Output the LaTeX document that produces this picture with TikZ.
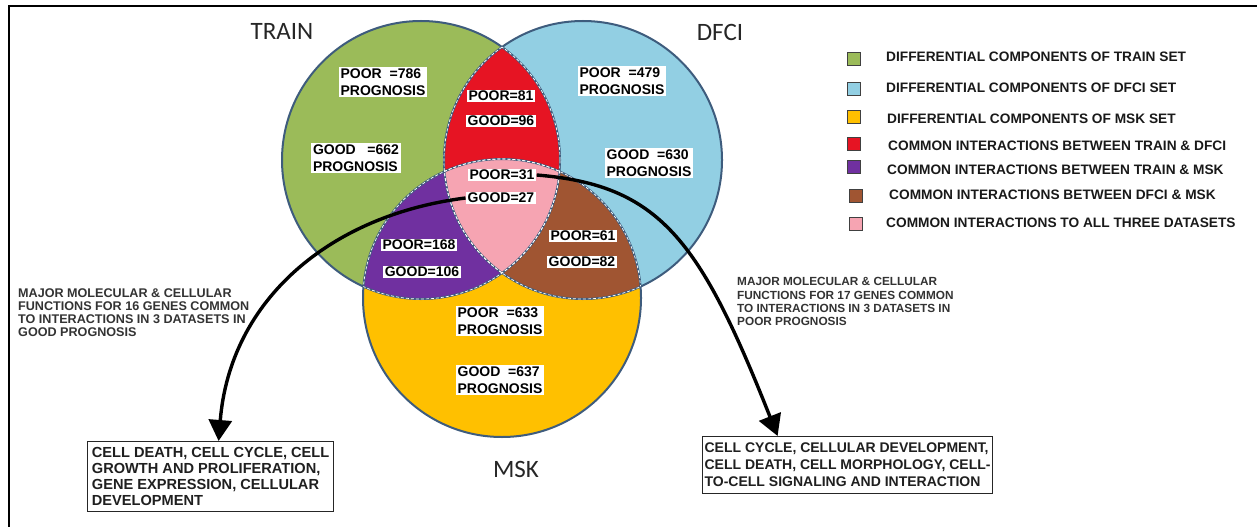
\documentclass[tikz,border=0pt]{standalone}
\usepackage{fontspec}
\setmainfont{Liberation Sans}
\newfontfamily\titlefont{Carlito}
\usetikzlibrary{arrows.meta}

\definecolor{trainc}{RGB}{155,187,89}
\definecolor{dfcic}{RGB}{146,207,227}
\definecolor{mskc}{RGB}{255,192,0}
\definecolor{tdc}{RGB}{230,20,35}
\definecolor{tmc}{RGB}{112,48,160}
\definecolor{dmc}{RGB}{160,85,50}
\definecolor{allc}{RGB}{246,164,178}
\definecolor{rim}{RGB}{62,92,125}

\begin{document}
\begin{tikzpicture}[x=1pt,y=-1pt,
  count/.style={fill=white, inner xsep=2pt, inner ysep=1.5pt,
    font=\fontsize{14}{16.5}\selectfont\bfseries, align=left},
  key/.style={draw=black!75, line width=0.8pt, minimum size=13pt, inner sep=0pt},
  keytext/.style={anchor=west, inner sep=0pt,
    font=\fontsize{13.7}{15}\selectfont\bfseries, text=black!90},
  setname/.style={font=\titlefont\fontsize{25}{28}\selectfont, text=black!85},
  note/.style={anchor=north west, align=left, inner sep=0pt,
    font=\fontsize{12.6}{13.3}\selectfont\bfseries, text=black!80},
  resbox/.style={draw=black!85, line width=1.2pt, align=left, anchor=north west,
    inner sep=0pt, text=black!88},
  rimline/.style={draw=rim, line width=2pt},
  seam/.style={white, line width=0.7pt, dash pattern=on 3pt off 2pt},
  link/.style={line width=3.4pt, -{Triangle[length=21pt,width=23pt]}}
]
\useasboundingbox (0,0) rectangle (1257,527);

% outer frame (top and left rules)
\draw[line width=2.2pt] (1257,5.8) -- (9,5.8) -- (9,527);

% set centres
\coordinate (cT) at (421,160);
\coordinate (cD) at (583,160);
\coordinate (cM) at (502,298);

% single-set regions
\fill[trainc] (cT) circle[radius=139pt];
\fill[dfcic] (cD) circle[radius=139pt];
\fill[mskc] (cM) circle[radius=139pt];

% pairwise overlaps
\begin{scope}
  \clip (cT) circle[radius=139pt];
  \fill[tdc] (cD) circle[radius=139pt];
  \fill[tmc] (cM) circle[radius=139pt];
\end{scope}
\begin{scope}
  \clip (cD) circle[radius=139pt];
  \fill[dmc] (cM) circle[radius=139pt];
\end{scope}
% triple overlap
\begin{scope}
  \clip (cT) circle[radius=139pt];
  \clip (cD) circle[radius=139pt];
  \fill[allc] (cM) circle[radius=139pt];
\end{scope}

% outlines
\draw[rimline] (cT) circle[radius=139pt] (cD) circle[radius=139pt] (cM) circle[radius=139pt];

% dashed seams on the inner arcs
\begin{scope}
  \clip (cT) circle[radius=139pt];
  \draw[seam] (cD) circle[radius=139pt] (cM) circle[radius=139pt];
\end{scope}
\begin{scope}
  \clip (cD) circle[radius=139pt];
  \draw[seam] (cT) circle[radius=139pt] (cM) circle[radius=139pt];
\end{scope}
\begin{scope}
  \clip (cM) circle[radius=139pt];
  \draw[seam] (cT) circle[radius=139pt] (cD) circle[radius=139pt];
\end{scope}

% set names
\node[setname] (nTrain) at (282,31) {TRAIN};
\node[setname] (nDfci) at (720,32) {DFCI};
\node[setname] (nMsk) at (516,469) {MSK};

% counts
\node[count] (p786) at (383,82) {POOR~~=786\\PROGNOSIS};
\node[count] (g662) at (356,158) {GOOD~~~=662\\PROGNOSIS};
\node[count] (p81) at (501,96) {POOR=81};
\node[count] (g96) at (501,121) {GOOD=96};
\node[count] (p479) at (622,81) {POOR~~=479\\PROGNOSIS};
\node[count] (g630) at (649,163) {GOOD~~=630\\PROGNOSIS};
\node[count] (p31) at (502,175) {POOR=31};
\node[count] (g27) at (501,198) {GOOD=27};
\node[count] (p168) at (419,245) {POOR=168};
\node[count] (g106) at (422,272) {GOOD=106};
\node[count] (p61) at (583,236) {POOR=61};
\node[count] (g82) at (582,262) {GOOD=82};
\node[count] (p633) at (500,321) {POOR~~=633\\PROGNOSIS};
\node[count] (g637) at (500,380) {GOOD~~=637\\PROGNOSIS};

% legend
\node[key, fill=trainc] (k1) at (853.5,58.5) {};
\node[key, fill=dfcic] (k2) at (853.5,88.5) {};
\node[key, fill=mskc] (k3) at (853.5,116.5) {};
\node[key, fill=tdc] (k4) at (853.5,143.5) {};
\node[key, fill=tmc] (k5) at (854,166.5) {};
\node[key, fill=dmc] (k6) at (855.5,195.5) {};
\node[key, fill=allc] (k7) at (856,223.5) {};
\node[keytext] (t1) at (886,56.5) {DIFFERENTIAL COMPONENTS OF TRAIN SET};
\node[keytext] (t2) at (886,87.5) {DIFFERENTIAL COMPONENTS OF DFCI SET};
\node[keytext] (t3) at (887,119) {DIFFERENTIAL COMPONENTS OF MSK SET};
\node[keytext] (t4) at (888,146) {COMMON INTERACTIONS BETWEEN TRAIN \& DFCI};
\node[keytext] (t5) at (887,170) {COMMON INTERACTIONS BETWEEN TRAIN \& MSK};
\node[keytext] (t6) at (889,195) {COMMON INTERACTIONS BETWEEN DFCI \& MSK};
\node[keytext] (t7) at (886,223) {COMMON INTERACTIONS TO ALL THREE DATASETS};

% descriptions
\node[note] (noteL) at (18,288) {MAJOR MOLECULAR \& CELLULAR\\FUNCTIONS FOR 16 GENES COMMON\\TO INTERACTIONS IN 3 DATASETS IN\\GOOD PROGNOSIS};
\node[note, font=\fontsize{11.8}{13.3}\selectfont\bfseries] (noteR) at (737,277.5) {MAJOR MOLECULAR \& CELLULAR\\FUNCTIONS FOR 17 GENES COMMON\\TO INTERACTIONS IN 3 DATASETS IN\\POOR PROGNOSIS};

% result boxes
\node[resbox, minimum width=246pt, minimum height=70pt,
  font=\fontsize{14.6}{16}\selectfont\bfseries] (boxL) at (87,441)
  {CELL DEATH, CELL CYCLE, CELL\\GROWTH AND PROLIFERATION,\\GENE EXPRESSION, CELLULAR\\DEVELOPMENT};
\node[resbox, minimum width=290pt, minimum height=57pt,
  font=\fontsize{14}{17}\selectfont\bfseries] (boxR) at (702,436)
  {CELL CYCLE, CELLULAR DEVELOPMENT,\\CELL DEATH, CELL MORPHOLOGY, CELL-\\TO-CELL SIGNALING AND INTERACTION};

% connectors
\draw[link] (g27.west) .. controls (330,215) and (230,300) .. ([xshift=8pt]boxL.north);
\draw[link] (p31.east) .. controls (660,185) and (700,240) .. ([xshift=-70pt]boxR.north);
\end{tikzpicture}
\end{document}
